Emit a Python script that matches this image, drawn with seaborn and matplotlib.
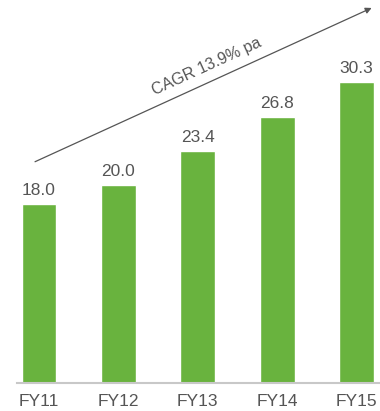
import matplotlib
matplotlib.use("Agg")
import matplotlib.pyplot as plt
import seaborn as sns
import pandas as pd

categories = ["FY11", "FY12", "FY13", "FY14", "FY15"]
values = [18.0, 20.0, 23.4, 26.8, 30.3]
value_labels = ["18.0", "20.0", "23.4", "26.8", "30.3"]
cagr_text = "CAGR 13.9% pa"

sns.set_theme(style="white")
plt.rcParams['font.family'] = ['Liberation Sans', 'DejaVu Sans']

df = pd.DataFrame({"year": categories, "value": values})

fig = plt.figure(figsize=(3.8, 4.11), dpi=100)
ax = fig.add_axes([17/380, 1 - 383/411, 1 - 17/380, 383/411])

sns.barplot(data=df, x="year", y="value", color="#69B33E", saturation=1,
            width=0.44, ax=ax)

ax.set_xlim(-0.277, 4.295)
ax.set_ylim(0, 38.6)
for s in ["top", "right", "left"]:
    ax.spines[s].set_visible(False)
ax.spines["bottom"].set_color("#c8c8c8")
ax.spines["bottom"].set_linewidth(1.5)
ax.set_yticks([])
ax.set_xlabel("")
ax.set_ylabel("")
ax.tick_params(axis="x", length=0, pad=8, labelsize=12.5, labelcolor="#555555")

for i, (v, lab) in enumerate(zip(values, value_labels)):
    ax.text(i, v + 0.6, lab, ha="center", va="bottom", fontsize=12.5,
            color="#555555")

ax.annotate("", xy=(4.19, 37.8), xytext=(-0.05, 22.3),
            xycoords="data", textcoords="data",
            arrowprops=dict(arrowstyle="-|>", color="#555555", lw=0.9,
                            mutation_scale=9, shrinkA=0, shrinkB=0),
            annotation_clip=False)
ax.text(2.15, 31.2, cagr_text, rotation=24.6, rotation_mode="anchor",
        ha="center", va="bottom", fontsize=11.5, color="#555555")

fig.savefig("out.png", dpi=100)
